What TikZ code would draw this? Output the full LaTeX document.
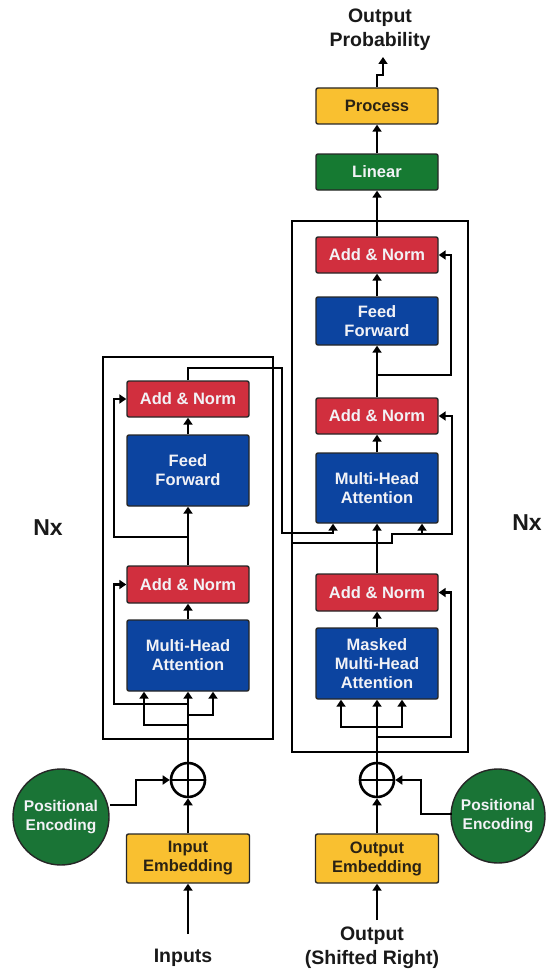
\documentclass[tikz,border=0pt]{standalone}
\usepackage{fontspec}
\setmainfont{Liberation Sans}
\usetikzlibrary{arrows.meta}
\definecolor{anred}{HTML}{D12F3E}
\definecolor{mhblue}{HTML}{0C44A0}
\definecolor{pyellow}{HTML}{F9C030}
\definecolor{lgreen}{HTML}{167A32}
\definecolor{pegreen}{HTML}{1A7436}
\definecolor{boxtxt}{HTML}{F2F2F6}
\definecolor{darktxt}{HTML}{2A2214}
\begin{document}
\begin{tikzpicture}[x=1pt,y=-1pt,
  every node/.style={font=\bfseries\fontsize{16.5}{19}\selectfont, align=center, inner sep=0pt},
  blk/.style={draw=black!85, line width=1.4pt, rounded corners=2pt, minimum width=122pt},
  anbox/.style={blk, fill=anred, text=boxtxt, minimum height=36pt},
  bluebox/.style={blk, fill=mhblue, text=boxtxt},
  ybox/.style={blk, fill=pyellow, text=darktxt},
  gbox/.style={blk, fill=lgreen, text=boxtxt, minimum height=36pt},
  pecirc/.style={circle, draw=black!85, line width=1.4pt, fill=pegreen, text=boxtxt, minimum size=96pt, font=\bfseries\fontsize{15.5}{19}\selectfont},
  sumc/.style={circle, draw=black, line width=2.6pt, minimum size=34pt},
  frame/.style={draw=black, line width=2.6pt},
  wire/.style={draw=black, line width=2.8pt},
  arr/.style={wire, -{Triangle[length=7pt,width=9pt]}},
  title/.style={font=\bfseries\fontsize{19.5}{24}\selectfont, text=black!90},
  nx/.style={font=\bfseries\fontsize{23}{26}\selectfont, text=black!90}
]
\useasboundingbox (0,0) rectangle (546,971);

% ---------- frames ----------
\draw[frame] (103,357) rectangle (273,739);
\draw[frame] (292,221) rectangle (468,752);

% ---------- encoder ----------
\node[anbox] (eAN2) at (188,399) {Add \& Norm};
\node[bluebox, minimum height=71pt] (eFF) at (188,470.5) {Feed\\Forward};
\node[anbox, minimum height=37pt] (eAN1) at (188,584.5) {Add \& Norm};
\node[bluebox, minimum height=71pt] (eMHA) at (188,655.5) {Multi-Head\\Attention};
\node[sumc] (eSum) at (188,780) {};
\draw[line width=2.6pt] (eSum.north) -- (eSum.south) (eSum.west) -- (eSum.east);
\node[ybox, minimum width=123pt, minimum height=49pt] (ie) at (188,858.5) {Input\\Embedding};
\node[pecirc] (pe1) at (61,817) {Positional\\Encoding};
\node[title] (inp) at (183,958) {Inputs};

% ---------- decoder ----------
\node[title] (outp) at (380,30) {Output\\Probability};
\node[ybox, minimum height=36pt] (proc) at (377,106) {Process};
\node[gbox] (lin) at (377,172) {Linear};
\node[anbox] (dAN3) at (377,255) {Add \& Norm};
\node[bluebox, minimum height=48pt] (dFF) at (377,321) {Feed\\Forward};
\node[anbox] (dAN2) at (377,416) {Add \& Norm};
\node[bluebox, minimum height=70pt] (dMHA) at (377,488) {Multi-Head\\Attention};
\node[anbox, minimum height=37pt] (dAN1) at (377,592.5) {Add \& Norm};
\node[bluebox, minimum height=71pt] (dMMHA) at (377,663.5) {Masked\\Multi-Head\\Attention};
\node[sumc] (dSum) at (377,780) {};
\draw[line width=2.6pt] (dSum.north) -- (dSum.south) (dSum.west) -- (dSum.east);
\node[ybox, minimum width=123pt, minimum height=49pt] (oe) at (377,858.5) {Output\\Embedding};
\node[pecirc, minimum size=94pt] (pe2) at (498,816) {Positional\\Encoding};
\node[title] (outs) at (372,948) {Output\\(Shifted Right)};

\node[nx] (nx1) at (48,528) {Nx};
\node[nx] (nx2) at (527,523) {Nx};

% ---------- encoder wiring ----------
\coordinate (inS) at (188,934);
\draw[arr] (inS) -- (ie.south);
\draw[arr] (ie.north) -- (eSum.south);
\coordinate (pe1a) at (110,805);
\coordinate (pe1b) at (136,805);
\draw[arr] (pe1a) -- (pe1b) |- (eSum.west);
\draw[arr] (eSum.north) -- (eMHA.south);
\coordinate (eJ1) at (188,725);
\coordinate (eJ2) at (188,715);
\coordinate (eJ3) at (188,704);
\coordinate (eL1) at (114,704);
\draw[arr] (eJ1) -| ([xshift=-44pt]eMHA.south);
\draw[arr] (eJ2) -| ([xshift=25pt]eMHA.south);
\draw[arr] (eJ3) -- (eL1) |- (eAN1.west);
\draw[arr] (eMHA.north) -- (eAN1.south);
\draw[arr] (eAN1.north) -- (eFF.south);
\coordinate (eJ4) at (188,537);
\coordinate (eL2) at (114,537);
\draw[arr] (eJ4) -- (eL2) |- (eAN2.west);
\draw[arr] (eFF.north) -- (eAN2.south);
\coordinate (eo1) at (188,368);
\coordinate (eo2) at (282,368);
\coordinate (eo3) at (282,533);
\draw[arr] (eAN2.north) -- (eo1) -- (eo2) -- (eo3) -| ([xshift=-44pt]dMHA.south);

% ---------- decoder wiring ----------
\coordinate (oS) at (377,920);
\draw[arr] (oS) -- (oe.south);
\draw[arr] (oe.north) -- (dSum.south);
\coordinate (pe2a) at (452,814);
\coordinate (pe2b) at (421,814);
\draw[arr] (pe2a) -- (pe2b) |- (dSum.east);
\draw[arr] (dSum.north) -- (dMMHA.south);
\coordinate (dJ1) at (377,727);
\draw[arr] (dJ1) -| ([xshift=-36pt]dMMHA.south);
\draw[arr] (dJ1) -| ([xshift=25pt]dMMHA.south);
\coordinate (dJ2) at (377,737);
\coordinate (dR1) at (451,737);
\draw[arr] (dJ2) -- (dR1) |- (dAN1.east);
\draw[arr] (dMMHA.north) -- (dAN1.south);
\draw[arr] (dAN1.north) -- (dMHA.south);
\coordinate (dK1) at (292,543);
\coordinate (dK2) at (392,543);
\coordinate (dK3) at (392,534);
\coordinate (dK4) at (452,534);
\coordinate (dK5) at (422,534);
\draw[arr] (dK1) -- (dK2) -- (dK3) -- (dK4) |- (dAN2.east);
\draw[arr] (dK5) -- ([xshift=45pt]dMHA.south);
\draw[arr] (dMHA.north) -- (dAN2.south);
\draw[arr] (dAN2.north) -- (dFF.south);
\coordinate (dJ3) at (377,375);
\coordinate (dR3) at (451,375);
\draw[arr] (dJ3) -- (dR3) |- (dAN3.east);
\draw[arr] (dFF.north) -- (dAN3.south);
\draw[arr] (dAN3.north) -- (lin.south);
\draw[arr] (lin.north) -- (proc.south);
\coordinate (pj1) at (377,75);
\coordinate (pj2) at (383,75);
\coordinate (pout) at (383,57);
\draw[arr] (proc.north) -- (pj1) -- (pj2) -- (pout);
\end{tikzpicture}
\end{document}
